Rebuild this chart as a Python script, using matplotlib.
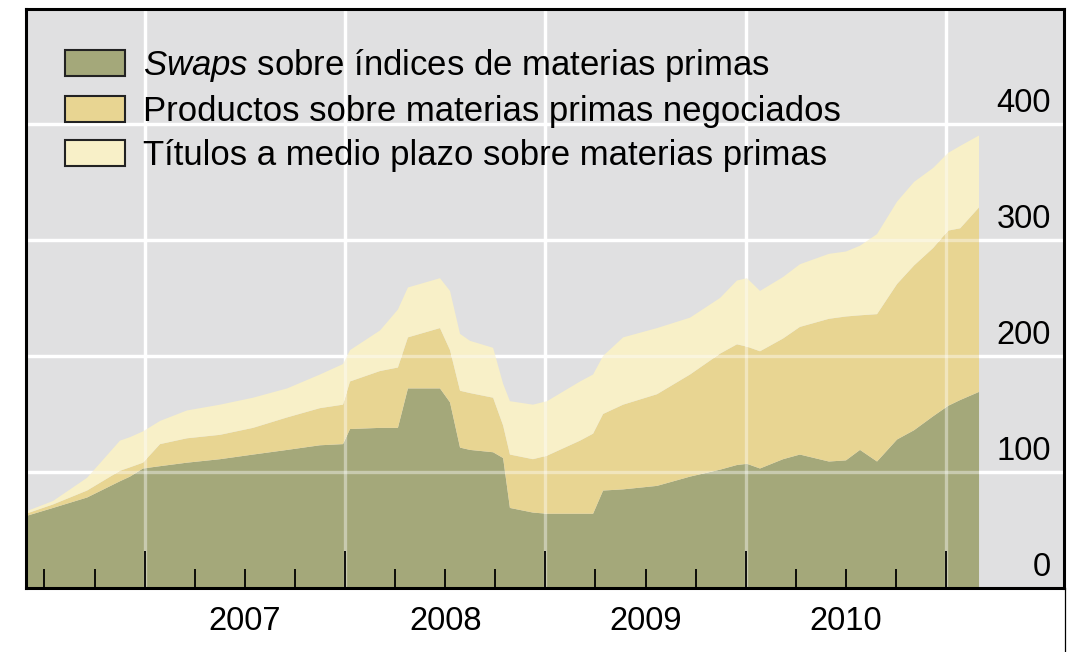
import matplotlib
matplotlib.use("Agg")
import matplotlib.pyplot as plt
from matplotlib.lines import Line2D
from matplotlib.patches import Patch

plt.rcParams["font.family"] = ["Liberation Sans", "DejaVu Sans"]
plt.rcParams["mathtext.fontset"] = "custom"
plt.rcParams["mathtext.rm"] = "Liberation Sans"
plt.rcParams["mathtext.it"] = "Liberation Sans:italic"

# fechas en años decimales
fechas = [2006.408, 2006.543, 2006.713, 2006.877, 2006.927, 2006.992, 2007.077,
          2007.211, 2007.376, 2007.541, 2007.711, 2007.875, 2007.990, 2008.025,
          2008.175, 2008.264, 2008.314, 2008.474, 2008.524, 2008.574, 2008.624,
          2008.739, 2008.789, 2008.823, 2008.938, 2009.008, 2009.173, 2009.238,
          2009.288, 2009.388, 2009.557, 2009.722, 2009.872, 2009.956, 2010.006,
          2010.071, 2010.186, 2010.270, 2010.415, 2010.500, 2010.570, 2010.655,
          2010.755, 2010.840, 2010.935, 2011.010, 2011.070, 2011.164]

swaps = [62, 69, 78, 92, 96, 103, 105, 108, 111, 115, 119, 123, 124, 137,
         138, 138, 172, 172, 160, 121, 119, 117, 112, 69, 65, 64, 64, 64,
         84, 85, 88, 96, 102, 106, 107, 103, 111, 115, 109, 110, 119, 109,
         128, 136, 148, 157, 162, 169]

productos = [2, 3, 6, 9, 8, 5, 19, 21, 21, 23, 28, 32, 34, 41,
             49, 52, 44, 52, 45, 49, 49, 47, 28, 46, 46, 50, 63, 69,
             66, 73, 79, 88, 100, 104, 101, 101, 104, 110, 123, 124, 116, 127,
             134, 142, 145, 151, 148, 159]

titulos = [2, 3, 11, 26, 26, 27, 20, 24, 26, 26, 25, 29, 35, 27,
           35, 50, 43, 43, 51, 49, 45, 43, 36, 46, 47, 47, 51, 51,
           50, 58, 57, 49, 48, 55, 59, 52, 53, 54, 56, 56, 60, 69,
           71, 72, 69, 67, 71, 62]

etiquetas = [r"$\mathit{Swaps}$ sobre índices de materias primas",
             "Productos sobre materias primas negociados",
             "Títulos a medio plazo sobre materias primas"]
colores = ["#a4a87a", "#e8d592", "#f8f0c8"]

anios = [2007, 2008, 2009, 2010, 2011]
trimestres = [2006.5, 2006.75, 2007.25, 2007.5, 2007.75, 2008.25, 2008.5, 2008.75,
              2009.25, 2009.5, 2009.75, 2010.25, 2010.5, 2010.75]
etiquetas_anio = ["2007", "2008", "2009", "2010"]
valores_y = [0, 100, 200, 300, 400]

fig = plt.figure(figsize=(10.73, 6.52), dpi=100)
ax = fig.add_axes([26 / 1073, 64 / 652, 1038 / 1073, 579 / 652])
ax.set_facecolor("#e0e0e1")

# rejilla bajo las áreas
for v in valores_y[1:]:
    ax.axhline(v, color="white", lw=2.4, zorder=1)
for a in anios:
    ax.axvline(a, color="white", lw=2.4, zorder=1)

ax.stackplot(fechas, swaps, productos, titulos, colors=colores,
             zorder=2, linewidth=0)

# rejilla translúcida sobre las áreas
for v in valores_y[1:]:
    ax.axhline(v, color="white", lw=2.4, alpha=0.4, zorder=3)
for a in anios:
    ax.axvline(a, color="white", lw=2.4, alpha=0.4, zorder=3)

ax.set_xlim(2006.408, 2011.588)
ax.set_ylim(0, 499)

ax.set_xticks(anios)
ax.set_xticklabels([])
ax.set_xticks(trimestres, minor=True)
ax.tick_params(axis="x", which="major", direction="in", length=27, width=1.3,
               color="black")
ax.tick_params(axis="x", which="minor", direction="in", length=14, width=1.3,
               color="black")
ax.xaxis.set_zorder(4)
ax.set_yticks([])

for s in ax.spines.values():
    s.set_color("black")
    s.set_linewidth(2.2)
    s.set_zorder(5)

for a, lab in zip(anios[:-1], etiquetas_anio):
    ax.annotate(lab, xy=(a + 0.5, 0), xycoords=("data", "axes fraction"),
                xytext=(0, -24), textcoords="offset points",
                ha="center", va="center", fontsize=23.5)

for v in valores_y:
    ax.annotate(str(v), xy=(1, v), xycoords=("axes fraction", "data"),
                xytext=(-9.5, 15), textcoords="offset points",
                ha="right", va="center", fontsize=23.5, zorder=6)

handles = [Patch(facecolor=c, edgecolor="#222222", linewidth=1.5) for c in colores]
leg = ax.legend(handles, etiquetas, loc="upper left",
                bbox_to_anchor=(39 / 1038, 1 - 38 / 579), frameon=False,
                fontsize=25, handlelength=1.72, handleheight=0.75,
                handletextpad=0.52, labelspacing=0.32, borderpad=0,
                borderaxespad=0)
leg.set_zorder(6)

# línea del marco que baja por la derecha
fig.add_artist(Line2D([1065 / 1073, 1065 / 1073], [0, 64 / 652],
                      color="black", lw=0.9))

fig.savefig("out.png", dpi=100)
